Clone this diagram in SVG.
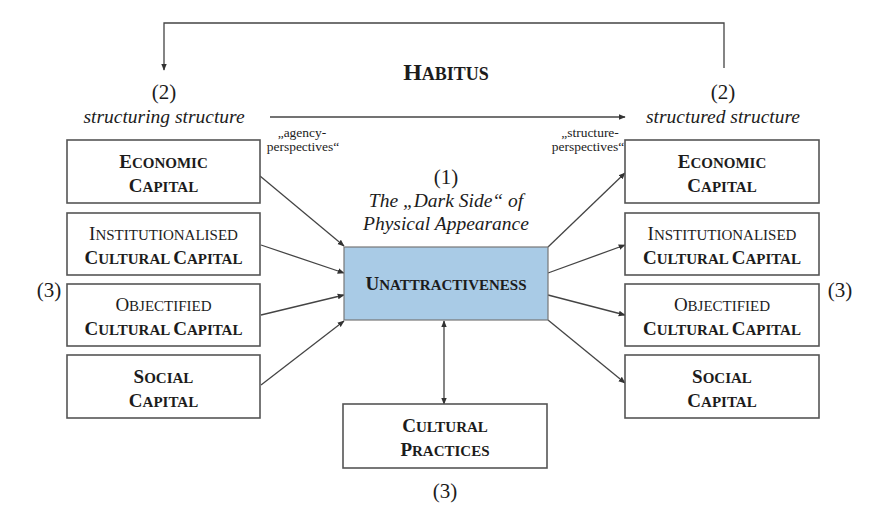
<svg xmlns="http://www.w3.org/2000/svg" width="890" height="524" viewBox="0 0 890 524">
<style>
text{font-family:"Liberation Serif","Times New Roman",serif;fill:#1c1c1c;text-anchor:middle}
.b{font-weight:bold}
.it{font-style:italic;font-size:19.5px}
.num{font-size:21px}
.sm{font-size:13.5px}
.L{font-size:19px}
.s{font-size:15px}
.box{fill:#fff;stroke:#555;stroke-width:1.6}
.ctr{fill:#a9cbe6;stroke:#777;stroke-width:1.2}
.ln{fill:none;stroke:#444;stroke-width:1.3}
</style>
<defs>
<marker id="ah" viewBox="0 0 10 10" refX="9" refY="5" markerWidth="7" markerHeight="7" orient="auto-start-reverse" markerUnits="userSpaceOnUse">
<path d="M0,1 L10,5 L0,9 z" fill="#333"/>
</marker>
</defs>

<g id="connectors">
<path class="ln" d="M724,68 V23 H164 V70" marker-end="url(#ah)"/>
<line class="ln" x1="270" y1="117" x2="625" y2="117" marker-end="url(#ah)"/>
<line class="ln" x1="260" y1="176" x2="344" y2="246" marker-end="url(#ah)"/>
<line class="ln" x1="261" y1="245" x2="344" y2="273" marker-end="url(#ah)"/>
<line class="ln" x1="261" y1="315" x2="344" y2="295" marker-end="url(#ah)"/>
<line class="ln" x1="261" y1="385" x2="344" y2="321" marker-end="url(#ah)"/>
<line class="ln" x1="548" y1="247" x2="625" y2="173" marker-end="url(#ah)"/>
<line class="ln" x1="548" y1="273" x2="625" y2="245" marker-end="url(#ah)"/>
<line class="ln" x1="548" y1="295" x2="625" y2="315" marker-end="url(#ah)"/>
<line class="ln" x1="548" y1="320" x2="625" y2="383" marker-end="url(#ah)"/>
<line class="ln" x1="444" y1="321" x2="444" y2="404" marker-start="url(#ah)" marker-end="url(#ah)"/>
</g>

<g id="labels">
<text x="446" y="80" class="b"><tspan style="font-size:24px">H</tspan><tspan style="font-size:18px">ABITUS</tspan></text>
<text x="164" y="99" class="num">(2)</text>
<text x="164" y="123" class="it">structuring structure</text>
<text x="723" y="99" class="num">(2)</text>
<text x="723" y="123" class="it">structured structure</text>
<text x="302" y="137" class="sm">„agency-</text>
<text x="303" y="151" class="sm">perspectives“</text>
<text x="590" y="137" class="sm">„structure-</text>
<text x="588" y="151" class="sm">perspectives“</text>
<text x="49" y="297" class="num">(3)</text>
<text x="840" y="297" class="num">(3)</text>
<text x="445" y="498" class="num">(3)</text>
<text x="446" y="184" class="num">(1)</text>
<text x="446" y="207" class="it">The „Dark Side“ of</text>
<text x="446" y="230" class="it">Physical Appearance</text>
</g>

<g id="left-economic">
<rect class="box" x="67" y="140" width="193" height="63"/>
<text x="163.5" y="168" class="b"><tspan class="L">E</tspan><tspan class="s">CONOMIC</tspan></text>
<text x="163.5" y="192" class="b"><tspan class="L">C</tspan><tspan class="s">APITAL</tspan></text>
</g>
<g id="left-institutionalised">
<rect class="box" x="67" y="213" width="193" height="62"/>
<text x="163.5" y="240"><tspan class="L">I</tspan><tspan class="s">NSTITUTIONALISED</tspan></text>
<text x="163.5" y="264" class="b"><tspan class="L">C</tspan><tspan class="s">ULTURAL </tspan><tspan class="L">C</tspan><tspan class="s">APITAL</tspan></text>
</g>
<g id="left-objectified">
<rect class="box" x="67" y="284" width="193" height="62"/>
<text x="163.5" y="311"><tspan class="L">O</tspan><tspan class="s">BJECTIFIED</tspan></text>
<text x="163.5" y="335" class="b"><tspan class="L">C</tspan><tspan class="s">ULTURAL </tspan><tspan class="L">C</tspan><tspan class="s">APITAL</tspan></text>
</g>
<g id="left-social">
<rect class="box" x="67" y="355" width="193" height="63"/>
<text x="163.5" y="383" class="b"><tspan class="L">S</tspan><tspan class="s">OCIAL</tspan></text>
<text x="163.5" y="407" class="b"><tspan class="L">C</tspan><tspan class="s">APITAL</tspan></text>
</g>

<g id="right-economic">
<rect class="box" x="625" y="140" width="194" height="63"/>
<text x="722" y="168" class="b"><tspan class="L">E</tspan><tspan class="s">CONOMIC</tspan></text>
<text x="722" y="192" class="b"><tspan class="L">C</tspan><tspan class="s">APITAL</tspan></text>
</g>
<g id="right-institutionalised">
<rect class="box" x="625" y="213" width="194" height="62"/>
<text x="722" y="240"><tspan class="L">I</tspan><tspan class="s">NSTITUTIONALISED</tspan></text>
<text x="722" y="264" class="b"><tspan class="L">C</tspan><tspan class="s">ULTURAL </tspan><tspan class="L">C</tspan><tspan class="s">APITAL</tspan></text>
</g>
<g id="right-objectified">
<rect class="box" x="625" y="284" width="194" height="62"/>
<text x="722" y="311"><tspan class="L">O</tspan><tspan class="s">BJECTIFIED</tspan></text>
<text x="722" y="335" class="b"><tspan class="L">C</tspan><tspan class="s">ULTURAL </tspan><tspan class="L">C</tspan><tspan class="s">APITAL</tspan></text>
</g>
<g id="right-social">
<rect class="box" x="625" y="355" width="194" height="63"/>
<text x="722" y="383" class="b"><tspan class="L">S</tspan><tspan class="s">OCIAL</tspan></text>
<text x="722" y="407" class="b"><tspan class="L">C</tspan><tspan class="s">APITAL</tspan></text>
</g>

<g id="unattractiveness">
<rect class="ctr" x="344" y="247" width="204" height="73"/>
<text x="446" y="290" class="b"><tspan class="L">U</tspan><tspan class="s">NATTRACTIVENESS</tspan></text>
</g>

<g id="cultural-practices">
<rect class="box" x="343" y="404" width="204" height="64"/>
<text x="445" y="432" class="b"><tspan class="L">C</tspan><tspan class="s">ULTURAL</tspan></text>
<text x="445" y="456" class="b"><tspan class="L">P</tspan><tspan class="s">RACTICES</tspan></text>
</g>
</svg>
